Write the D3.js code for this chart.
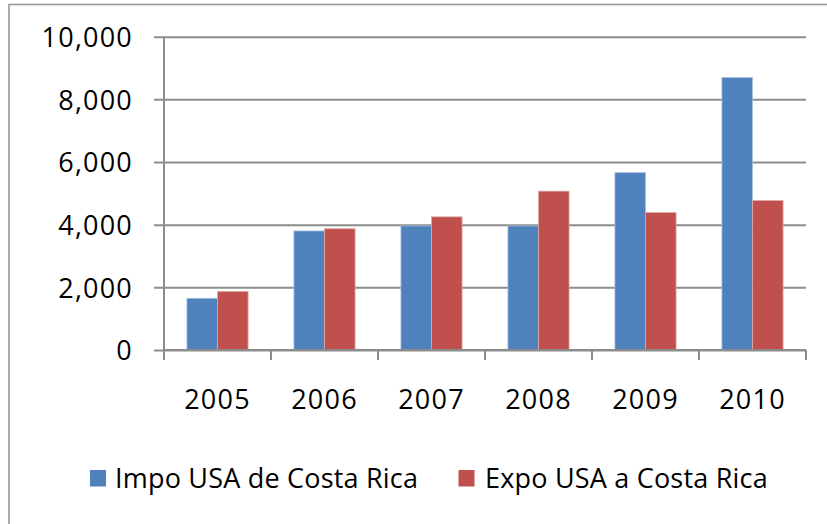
<!DOCTYPE html>
<html>
<head>
<meta charset="utf-8">
<script src="https://cdn.jsdelivr.net/npm/d3@7"></script>
<style>
  html, body { margin: 0; padding: 0; background: #fff; }
  svg { display: block; }
  text { font-family: "Open Sans", sans-serif; fill: #000; }
</style>
</head>
<body>
<svg id="chart" width="827" height="524"></svg>
<script>
// Trade between the USA and Costa Rica, by year
const years = ["2005", "2006", "2007", "2008", "2009", "2010"];
const seriesNames = ["Impo USA de Costa Rica", "Expo USA a Costa Rica"];
const impo = [1650, 3800, 3960, 3960, 5660, 8700];
const expo = [1870, 3870, 4250, 5070, 4390, 4770];
const yTicks = [0, 2000, 4000, 6000, 8000, 10000];
const colors = ["#4F81BD", "#C0504D"];
const edgeColors = ["#A7C0E0", "#E0A8A6"];

const svg = d3.select("#chart");

// outer frame of the chart area
svg.append("rect")
  .attr("x", 9).attr("y", 4.5)
  .attr("width", 840).attr("height", 540)
  .attr("fill", "#fff")
  .attr("stroke", "#999").attr("stroke-width", 1.6);

const plotLeft = 164, plotRight = 806, plotTop = 36.7, plotBottom = 350;

const x = d3.scaleBand().domain(years).range([plotLeft, plotRight]).paddingInner(0).paddingOuter(0);
const y = d3.scaleLinear().domain([0, 10000]).range([plotBottom, plotTop]);

// horizontal gridlines with short ticks to the left
const yAxis = d3.axisLeft(y).tickValues(yTicks)
  .tickSize(-(plotRight - plotLeft)).tickSizeOuter(0)
  .tickFormat(d3.format(","));
const gy = svg.append("g").attr("transform", `translate(${plotLeft},0)`).call(yAxis);
gy.select(".domain").remove();
gy.selectAll(".tick line")
  .attr("x1", -10)
  .attr("stroke", "#8c8c8c").attr("stroke-width", 2);
gy.selectAll(".tick text")
  .attr("x", -31).attr("dy", "0.36em")
  .style("font-size", "27px").style("letter-spacing", "1.2px")
  .style("font-family", "'Open Sans', sans-serif")
  .attr("fill", "#000");

// bars: gap width 150% between groups
const barW = x.bandwidth() / 3.5;
const series = [impo, expo];
series.forEach((vals, si) => {
  svg.append("g").selectAll("rect")
    .data(vals)
    .join("rect")
    .attr("x", (d, i) => x(years[i]) + x.bandwidth() / 2 - barW + si * barW)
    .attr("y", d => y(d))
    .attr("width", barW)
    .attr("height", d => plotBottom - y(d))
    .attr("fill", colors[si])
    .attr("stroke", edgeColors[si]).attr("stroke-width", 0.8);
});

// category axis with tick marks between groups
const xAxis = d3.axisBottom(x).tickSize(0).tickSizeOuter(0);
const gx = svg.append("g").attr("transform", `translate(0,${plotBottom})`).call(xAxis);
gx.select(".domain").remove();
gx.selectAll(".tick text")
  .attr("y", 59.3).attr("dy", 0)
  .style("font-size", "27px").style("letter-spacing", "1.2px")
  .style("font-family", "'Open Sans', sans-serif")
  .attr("fill", "#000");

const axisColor = "#8c8c8c";
svg.append("line")
  .attr("x1", plotLeft).attr("x2", plotRight).attr("y1", plotBottom).attr("y2", plotBottom)
  .attr("stroke", axisColor).attr("stroke-width", 2);
svg.append("line")
  .attr("x1", plotLeft).attr("x2", plotLeft).attr("y1", plotTop).attr("y2", plotBottom + 10)
  .attr("stroke", axisColor).attr("stroke-width", 2);
svg.append("g").selectAll("line")
  .data(years.slice(1).map(d => x(d)).concat([plotRight]))
  .join("line")
  .attr("x1", d => d).attr("x2", d => d)
  .attr("y1", plotBottom).attr("y2", plotBottom + 10)
  .attr("stroke", axisColor).attr("stroke-width", 2);

// legend
const legendItems = [
  { name: seriesNames[0], color: colors[0], sx: 90, tx: 115 },
  { name: seriesNames[1], color: colors[1], sx: 458.5, tx: 485 }
];
const lg = svg.append("g");
legendItems.forEach(it => {
  lg.append("rect")
    .attr("x", it.sx).attr("y", 470)
    .attr("width", 16).attr("height", 16.5)
    .attr("fill", it.color);
  lg.append("text")
    .attr("x", it.tx).attr("y", 488.3)
    .style("font-size", "27px").style("letter-spacing", "0.2px")
    .text(it.name);
});
</script>
</body>
</html>
